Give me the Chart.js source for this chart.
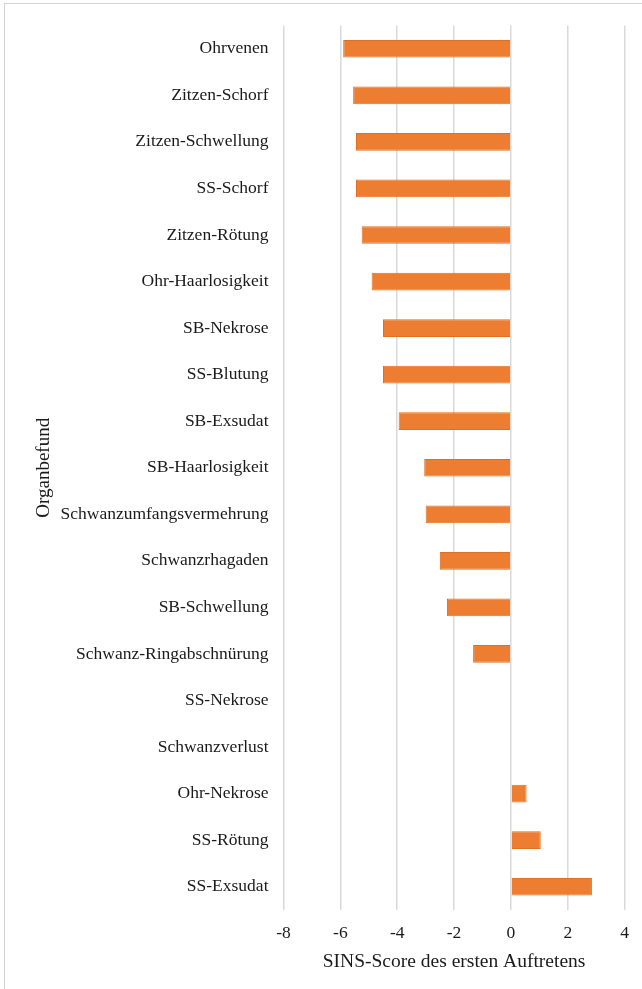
<!DOCTYPE html>
<html>
<head>
<meta charset="utf-8">
<script src="https://cdn.jsdelivr.net/npm/chart.js@4.4.1/dist/chart.umd.min.js"></script>
<style>
  html, body { margin: 0; padding: 0; background: #fff; }
  #wrap { position: relative; width: 642px; height: 989px; overflow: hidden; }
  #frame {
    position: absolute; left: 4px; top: 3px; width: 700px; height: 1100px;
    border-left: 1.5px solid #d4d4d4; border-top: 1.5px solid #d4d4d4;
    pointer-events: none;
  }
</style>
</head>
<body>
<div id="wrap">
  <canvas id="chart" width="642" height="989"></canvas>
  <div id="frame"></div>
</div>
<script>
  const categories = [
    "Ohrvenen", "Zitzen-Schorf", "Zitzen-Schwellung", "SS-Schorf", "Zitzen-Rötung",
    "Ohr-Haarlosigkeit", "SB-Nekrose", "SS-Blutung", "SB-Exsudat", "SB-Haarlosigkeit",
    "Schwanzumfangsvermehrung", "Schwanzrhagaden", "SB-Schwellung", "Schwanz-Ringabschnürung",
    "SS-Nekrose", "Schwanzverlust", "Ohr-Nekrose", "SS-Rötung", "SS-Exsudat"
  ];
  const scores = [
    -5.9, -5.55, -5.45, -5.45, -5.25,
    -4.9, -4.5, -4.5, -3.95, -3.05,
    -3.0, -2.5, -2.25, -1.33,
    null, null, 0.55, 1.05, 2.85
  ];
  const xTickValues = [-8, -6, -4, -2, 0, 2, 4];

  const serif = "'Liberation Serif', 'Times New Roman', serif";

  new Chart(document.getElementById("chart"), {
    type: "bar",
    data: {
      labels: categories,
      datasets: [{
        data: scores,
        backgroundColor: "#ED7D31",
        borderColor: "#E0701F",
        borderWidth: 1,
        barPercentage: 0.38,
        categoryPercentage: 1
      }]
    },
    options: {
      indexAxis: "y",
      responsive: false,
      animation: false,
      layout: { padding: { top: 25, right: 14, left: 0, bottom: 0 } },
      plugins: { legend: { display: false }, tooltip: { enabled: false } },
      scales: {
        x: {
          min: xTickValues[0],
          max: xTickValues[xTickValues.length - 1],
          afterBuildTicks: (s) => { s.ticks = xTickValues.map((v) => ({ value: v })); },
          afterFit: (s) => { s.height = 79; },
          grid: { color: "#d9d9d9", lineWidth: 1.5, drawTicks: false },
          border: { display: false },
          ticks: { color: "#1a1a1a", font: { family: serif, size: 17.5 }, padding: 13 },
          title: {
            display: true,
            text: "SINS-Score des ersten Auftretens",
            color: "#1a1a1a",
            font: { family: serif, size: 19.5 },
            padding: { top: 0, bottom: 15 }
          }
        },
        y: {
          afterFit: (s) => { s.width = 283.5; },
          grid: { display: false, drawTicks: false },
          border: { display: false },
          ticks: { color: "#1a1a1a", font: { family: serif, size: 17.5 }, padding: 15, autoSkip: false },
          title: {
            display: true,
            text: "Organbefund",
            color: "#1a1a1a",
            font: { family: serif, size: 19 },
            padding: { top: 33, bottom: 0 }
          }
        }
      }
    }
  });
</script>
</body>
</html>
